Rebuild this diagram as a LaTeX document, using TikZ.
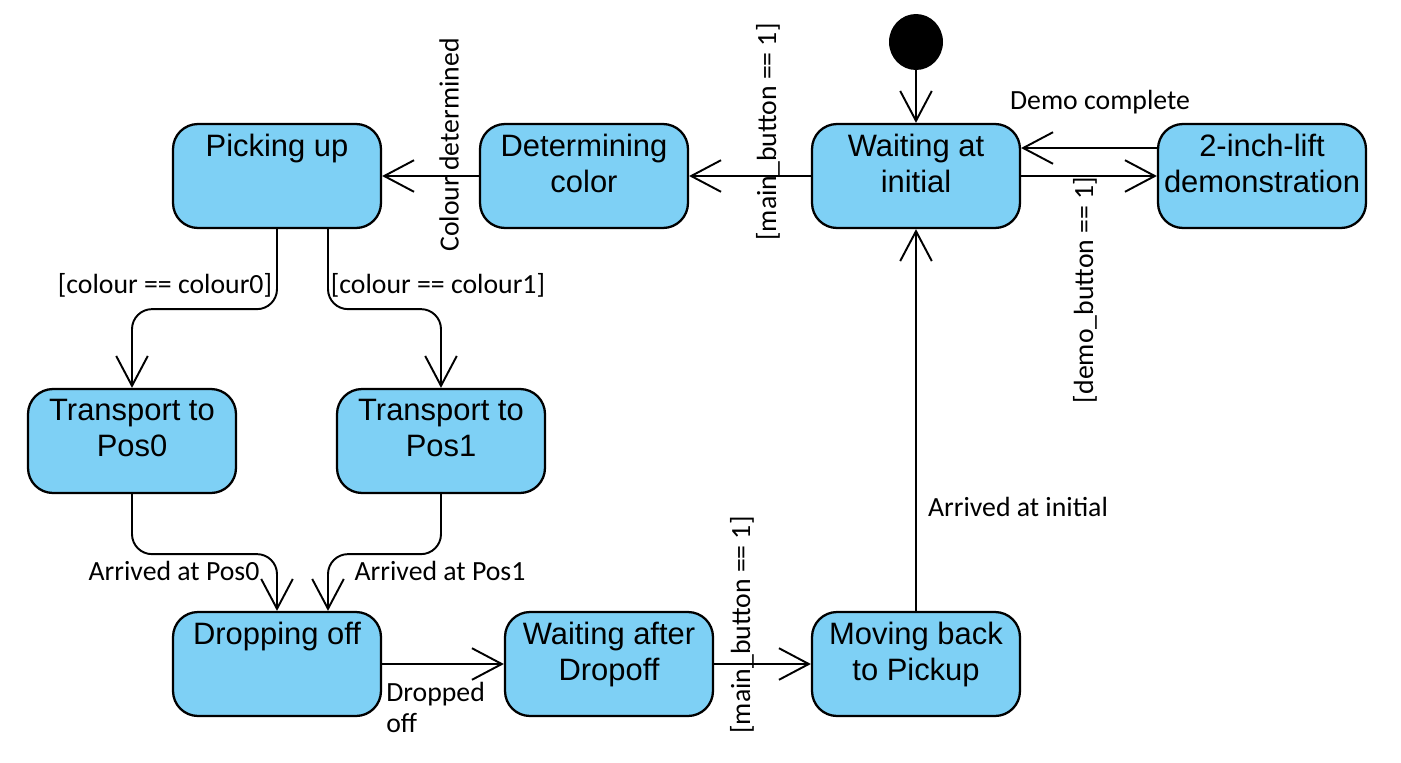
\documentclass[tikz,border=0pt]{standalone}
\usepackage{fontspec}
\setmainfont{Liberation Sans}
\newfontfamily\lblfont{Carlito}
\usetikzlibrary{arrows.meta,calc,shapes.geometric}
\definecolor{stateblue}{HTML}{7ED0F5}

\begin{document}
\begin{tikzpicture}[
x=0.02cm,
y=-0.02cm,
state/.style={draw, line width=1.3pt, fill=stateblue, rounded corners=0.5cm, minimum width=4.16cm, minimum height=2.08cm},
statetext/.style={anchor=north, align=center, inner sep=6.3pt, font=\fontsize{17.6}{20.4}\selectfont},
trans/.style={line width=1.1pt, rounded corners=0.4cm, -{Straight Barb[length=17pt,width=18pt]}},
guard/.style={inner sep=0pt, align=left, font=\lblfont\fontsize{15.8}{17.8}\selectfont}
]

\useasboundingbox
(0,0)
rectangle
(1401,762);

\node[ellipse, fill=black, minimum width=1.08cm, minimum height=1.12cm, inner sep=0pt]
(init)
at (916,42)
{};

\node[state, label={[statetext]north:{Waiting at\\initial}}]
(wait)
at (916,176)
{};

\node[state, label={[statetext]north:{2-inch-lift\\demonstration}}]
(demo)
at (1262,176)
{};

\node[state, label={[statetext]north:{Determining\\color}}]
(det)
at (584,176)
{};

\node[state, label={[statetext]north:{Picking up}}]
(pick)
at (277,176)
{};

\node[state, label={[statetext]north:{Transport to\\Pos0}}]
(tpos0)
at (132,441)
{};

\node[state, label={[statetext]north:{Transport to\\Pos1}}]
(tpos1)
at (441,441)
{};

\node[state, label={[statetext]north:{Dropping off}}]
(drop)
at (277,664)
{};

\node[state, label={[statetext]north:{Waiting after\\Dropoff}}]
(waitdrop)
at (609,664)
{};

\node[state, label={[statetext]north:{Moving back\\to Pickup}}]
(moveback)
at (916,664)
{};

\draw[trans]
(init)
--
(wait);

\draw[trans]
(wait)
--
(det);

\node[guard, rotate=90]
(lmain1)
at (768,132)
{[main\_button == 1]};

\draw[trans]
(det)
--
(pick);

\node[guard, rotate=90]
(lcol)
at (449,145)
{Colour determined};

\draw[trans]
(wait)
--
(demo);

\node[guard, rotate=90]
(ldemo)
at (1085,290)
{[demo\_button == 1]};

\draw[trans]
($(demo.west)+(0,-28)$)
--
($(wait.east)+(0,-28)$);

\node[guard]
(ldone)
at (1100,102)
{Demo complete};

\draw[trans]
(pick.south)
-- ++(0,80)
-|
(tpos0.north);

\node[guard]
(lc0)
at (165,285)
{[colour == colour0]};

\draw[trans]
($(pick.south)+(51,0)$)
-- ++(0,80)
-|
(tpos1.north);

\node[guard]
(lc1)
at (438,285)
{[colour == colour1]};

\draw[trans]
(tpos0.south)
-- ++(0,60)
-|
(drop.north);

\node[guard]
(lpos0)
at (174,571)
{Arrived at Pos0};

\draw[trans]
(tpos1.south)
-- ++(0,60)
-|
($(drop.north)+(51,0)$);

\node[guard]
(lpos1)
at (440,571)
{Arrived at Pos1};

\draw[trans]
(drop)
--
(waitdrop);

\node[guard, anchor=north west]
(ldrop)
at (386,682)
{Dropped\\off};

\draw[trans]
(waitdrop)
--
(moveback);

\node[guard, rotate=90]
(lmain2)
at (742,625)
{[main\_button == 1]};

\draw[trans]
(moveback)
--
(wait);

\node[guard]
(linit)
at (1018,507)
{Arrived at initial};

\end{tikzpicture}
\end{document}
